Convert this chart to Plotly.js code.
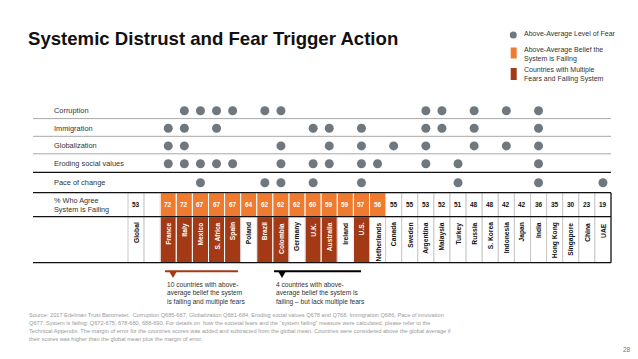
<!DOCTYPE html>
<html><head><meta charset="utf-8">
<script src="https://cdn.plot.ly/plotly-3.0.1.min.js"></script>
<style>html,body{margin:0;padding:0;background:#fff;}#chart{width:638px;height:359px;}</style>
</head><body><div id="chart"></div>
<script>
// ---------- DATA ----------
const countries = ['Global','France','Italy','Mexico','S. Africa','Spain','Poland','Brazil','Colombia','Germany','U.K.','Australia','Ireland','U.S.','Netherlands','Canada','Sweden','Argentina','Malaysia','Turkey','Russia','S. Korea','Indonesia','Japan','India','Hong Kong','Singapore','China','UAE'];
const failingPct = [53,72,72,67,67,67,64,62,62,62,60,59,59,57,56,55,55,53,52,51,48,48,42,42,36,35,30,23,19];
const aboveAvgFailing = ['France','Italy','Mexico','S. Africa','Spain','Poland','Brazil','Colombia','Germany','U.K.','Australia','Ireland','U.S.','Netherlands'];
const fearRows = ['Corruption','Immigration','Globalization','Eroding social values','Pace of change'];
const fearCorruption = ['Italy','Mexico','S. Africa','Spain','Brazil','Colombia','Argentina','Malaysia','Russia','Indonesia','India'];
const fearImmigration = ['France','Italy','S. Africa','U.K.','Australia','U.S.','Argentina','Malaysia','Russia','India'];
const fearGlobalization = ['France','Italy','Colombia','Australia','U.S.','Canada','Argentina','Russia','Indonesia','India'];
const fearEroding = ['France','Italy','Mexico','S. Africa','Spain','Colombia','U.K.','Australia','U.S.','Netherlands','Argentina','Turkey','India'];
const fearPace = ['Mexico','Brazil','Colombia','U.K.','U.S.','Turkey','India','UAE'];
const fearLists = [fearCorruption, fearImmigration, fearGlobalization, fearEroding, fearPace];
const legendLabels = ['Above-Average Level of Fear', 'Above-Average Belief the<br>System is Failing', 'Countries with Multiple<br>Fears and Failing System'];

// ---------- LAYOUT CONSTANTS ----------
const W = 638, H = 359;
const COLW = 16.1, COL0 = 128;
const FONT = 'Liberation Sans, Arial, Helvetica, sans-serif';
const ORANGE = '#EE7B30', DARKRED = '#A43A15', DOT = '#6F777F';
const rowY = [110.7, 128.3, 145.9, 163.7, 182.7];
const sepY = [118.6, 136.3, 153.8];
const thickY = 172.4;
const tTop = 192.7, tMid = 216.7, tBot = 262.7;
const legendY = [34.4, 54.0, 74.3];
const px = x => x / W;

const colOf = name => { const i = countries.indexOf(name); return i === 0 ? 0 : i + 1; };
const fearCount = name => fearLists.filter(l => l.includes(name)).length;
const isFailing = name => aboveAvgFailing.includes(name);
const isMulti = name => isFailing(name) && fearCount(name) >= 2;

// ---------- TRACES ----------
const traces = [];
const cellX = [0, 1].concat(countries.slice(1).map(colOf));
const cellNames = ['Global', ''].concat(countries.slice(1));
traces.push({
  type: 'bar', x: cellX, y: cellX.map(() => tMid - tTop), base: tTop, width: 1,
  marker: { color: cellNames.map(n => isFailing(n) ? ORANGE : '#ffffff'),
            line: { width: 1, color: cellNames.map(n => isFailing(n) ? '#ffffff' : '#c9c9c9') } },
  hoverinfo: 'skip', showlegend: false
});
traces.push({
  type: 'bar', x: cellX, y: cellX.map(() => tBot - tMid), base: tMid, width: 1,
  marker: { color: cellNames.map(n => isMulti(n) ? DARKRED : '#ffffff'),
            line: { width: 1, color: cellNames.map(n => isMulti(n) ? '#ffffff' : '#c9c9c9') } },
  hoverinfo: 'skip', showlegend: false
});
const dx = [], dy = [];
fearLists.forEach((list, r) => list.forEach(n => { dx.push(colOf(n)); dy.push(rowY[r]); }));
traces.push({ type: 'scatter', mode: 'markers', x: dx, y: dy,
  marker: { size: 9, color: DOT }, hoverinfo: 'skip', showlegend: false });

// ---------- SHAPES ----------
const shapes = [];
const hline = (y, color, w) => shapes.push({ type: 'line', xref: 'paper', yref: 'y', x0: px(33), x1: px(611), y0: y, y1: y, line: { color, width: w } });
sepY.forEach(y => hline(y, '#a8a8a8', 1));
hline(thickY, '#111', 1.3);
hline(tTop, '#111', 1.2);
hline(tMid, '#111', 1.2);
hline(tBot, '#111', 1.2);
shapes.push({ type: 'line', xref: 'x', yref: 'y', x0: 29.5, x1: 29.5, y0: tTop, y1: tBot, line: { color: '#111', width: 1.2 } });
shapes.push({ type: 'circle', xref: 'paper', yref: 'y', x0: px(509.8), x1: px(516.8), y0: 31.6, y1: 38.6, fillcolor: DOT, line: { width: 0 } });
shapes.push({ type: 'rect', xref: 'paper', yref: 'y', x0: px(510.7), x1: px(516.7), y0: 47.5, y1: 58.5, fillcolor: ORANGE, line: { width: 0 } });
shapes.push({ type: 'rect', xref: 'paper', yref: 'y', x0: px(510.7), x1: px(516.7), y0: 68, y1: 80, fillcolor: DARKRED, line: { width: 0 } });
const bracket = (x0, x1, xt, color) => {
  shapes.push({ type: 'line', xref: 'paper', yref: 'y', x0: px(x0), x1: px(x1), y0: 271.3, y1: 271.3, line: { color, width: 2 } });
  shapes.push({ type: 'path', xref: 'paper', yref: 'paper',
    path: `M ${px(xt - 4)} ${1 - 271 / H} L ${px(xt + 4)} ${1 - 271 / H} L ${px(xt)} ${1 - 278 / H} Z`,
    fillcolor: color, line: { width: 0 } });
};
bracket(165, 238, 173, DARKRED);
bracket(274, 361, 282, '#000');

// ---------- ANNOTATIONS ----------
const ann = [];
const txt = (text, x, y, size, opts = {}) => ann.push(Object.assign({
  text, xref: 'paper', yref: 'y', x: px(x), y, xanchor: 'left', yanchor: 'middle', align: 'left',
  showarrow: false, font: { family: FONT, size, color: '#333' }
}, opts));

txt('<b>Systemic Distrust and Fear Trigger Action</b>', 26, 38.8, 18.6, { font: { family: FONT, size: 18.6, color: '#111' } });
fearRows.forEach((r, i) => txt(r, 52, rowY[i], 7.4));
txt('% Who Agree<br>System is Failing', 52, 204.7, 7.3);

legendLabels.forEach((t, i) => txt(t, 521.5, legendY[i], 7.0));

countries.forEach((n, i) => {
  const c = colOf(n);
  ann.push({ text: '<b>' + failingPct[i] + '</b>', xref: 'x', yref: 'y', x: c, y: 204.9,
    xanchor: 'center', yanchor: 'middle', showarrow: false,
    font: { family: FONT, size: 6.5, color: isFailing(n) ? '#fff' : '#111' } });
  ann.push({ text: '<b>' + n + '</b>', xref: 'x', yref: 'y', x: c, y: 220.5, textangle: -90,
    xanchor: 'center', yanchor: 'top', showarrow: false,
    font: { family: FONT, size: 6.7, color: isMulti(n) ? '#fff' : '#111' } });
});

const note1 = ['10 countries with above-', 'average belief the system', 'is failing and multiple fears'];
const note2 = ['4 countries with above-', 'average belief the system is', 'failing \u2013 but lack multiple fears'];
note1.forEach((t, i) => txt(t, 164.5, 284.3 + i * 8.8, 6.6));
note2.forEach((t, i) => txt(t, 273.5, 284.3 + i * 8.8, 6.6));

const src = [
  'Source: 2017 Edelman Trust Barometer.  Corruption Q685-687, Globalization Q681-684, Eroding social values Q678 and Q768, Immigration Q686, Pace of innovation',
  'Q677. System is failing: Q672-675, 678-680, 688-690. For details on  how the societal fears and the \u201csystem failing\u201d measure were calculated, please refer to the',
  'Technical Appendix. The margin of error for the countries scores was added and subtracted from the global mean. Countries were considered above the global average if',
  'their scores was higher than the global mean plus the margin of error.'
];
src.forEach((t, i) => txt(t, 26.5, 314.8 + i * 8.1, 5.65, { font: { family: FONT, size: 5.65, color: '#9a9a9a' } }));
txt('28', 621, 349.5, 6.5, { font: { family: FONT, size: 6.5, color: '#777' } });

const layout = {
  width: W, height: H, margin: { l: 0, r: 0, t: 0, b: 0 },
  paper_bgcolor: '#fff', plot_bgcolor: '#fff', barmode: 'overlay', showlegend: false,
  xaxis: { range: [-COL0 / COLW - 0.5, (W - COL0) / COLW - 0.5], domain: [0, 1], visible: false, fixedrange: true },
  yaxis: { range: [H, 0], domain: [0, 1], visible: false, fixedrange: true },
  shapes, annotations: ann, hovermode: false
};
Plotly.newPlot('chart', traces, layout, { staticPlot: true, displayModeBar: false });
</script></body></html>
